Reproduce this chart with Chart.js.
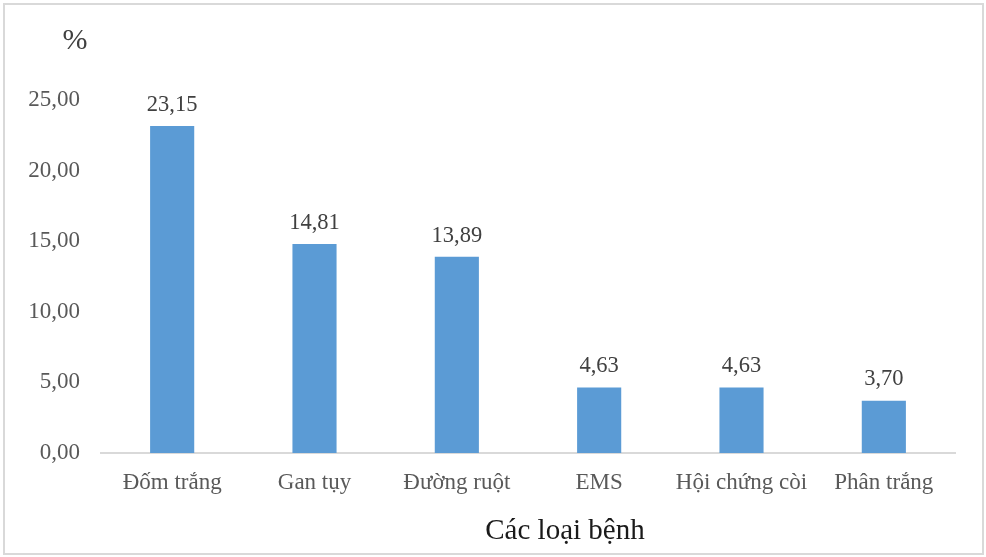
<!DOCTYPE html>
<html>
<head>
<meta charset="utf-8">
<script src="https://cdn.jsdelivr.net/npm/chart.js@4/dist/chart.umd.min.js"></script>
<style>
  html, body { margin: 0; padding: 0; background: #fff; }
  #wrap { width: 986px; height: 557px; }
</style>
</head>
<body>
<div id="wrap"><canvas id="c" width="986" height="557"></canvas></div>
<script>
// Tỷ lệ các loại bệnh (%)
const categories = ['Đốm trắng', 'Gan tụy', 'Đường ruột', 'EMS', 'Hội chứng còi', 'Phân trắng'];
const percentages = [23.15, 14.81, 13.89, 4.63, 4.63, 3.70];
const yTicks = [0, 5, 10, 15, 20, 25];
const xAxisTitle = 'Các loại bệnh';
const yAxisUnit = '%';

const fmt = v => v.toFixed(2).replace('.', ',');
const serif = '"Liberation Serif", "Times New Roman", serif';

// Frame around the whole figure, the unit label and the category-axis title
const framePlugin = {
  id: 'frame',
  beforeDraw(chart) {
    const ctx = chart.ctx;
    ctx.save();
    ctx.fillStyle = '#ffffff';
    ctx.fillRect(0, 0, chart.width, chart.height);
    ctx.strokeStyle = '#d9d9d9';
    ctx.lineWidth = 2;
    ctx.strokeRect(4, 4, chart.width - 7, chart.height - 7);
    ctx.restore();
  },
  afterDraw(chart) {
    const ctx = chart.ctx;
    const area = chart.chartArea;
    ctx.save();
    ctx.font = '30px ' + serif;
    ctx.fillStyle = '#404040';
    ctx.textAlign = 'center';
    ctx.textBaseline = 'middle';
    ctx.fillText(yAxisUnit, 75, 41);

    ctx.font = '29px ' + serif;
    ctx.fillStyle = '#1a1a1a';
    ctx.textBaseline = 'alphabetic';
    ctx.fillText(xAxisTitle, (area.left + area.right) / 2 + 37, area.bottom + 86);
    ctx.restore();
  }
};

// Value labels above each bar
const valueLabels = {
  id: 'valueLabels',
  afterDatasetsDraw(chart) {
    const ctx = chart.ctx;
    const meta = chart.getDatasetMeta(0);
    ctx.save();
    ctx.font = '22.5px ' + serif;
    ctx.fillStyle = '#404040';
    ctx.textAlign = 'center';
    ctx.textBaseline = 'bottom';
    meta.data.forEach((bar, i) => {
      ctx.fillText(fmt(percentages[i]), bar.x, bar.y - 10);
    });
    ctx.restore();
  }
};

new Chart(document.getElementById('c'), {
  type: 'bar',
  data: {
    labels: categories,
    datasets: [{
      data: percentages,
      backgroundColor: '#5b9bd5',
      borderWidth: 0,
      categoryPercentage: 1,
      barPercentage: 0.31
    }]
  },
  options: {
    responsive: false,
    animation: false,
    events: [],
    layout: { padding: { left: 0, right: 31, top: 100, bottom: 0 } },
    plugins: {
      legend: { display: false },
      tooltip: { enabled: false },
      title: { display: false }
    },
    scales: {
      x: {
        grid: { display: false, drawTicks: false },
        border: { display: true, color: '#d9d9d9', width: 2 },
        ticks: {
          color: '#595959',
          font: { family: serif, size: 23 },
          padding: 16,
          maxRotation: 0,
          autoSkip: false
        },
        afterFit(scale) { scale.height = 104; }
      },
      y: {
        min: 0,
        max: 25,
        afterBuildTicks(scale) { scale.ticks = yTicks.map(v => ({ value: v })); },
        grid: { display: false, drawTicks: false },
        border: { display: false },
        ticks: {
          color: '#595959',
          font: { family: serif, size: 23 },
          padding: 21,
          callback: v => fmt(v)
        },
        afterFit(scale) { scale.width = 101; }
      }
    }
  },
  plugins: [framePlugin, valueLabels]
});
</script>
</body>
</html>
